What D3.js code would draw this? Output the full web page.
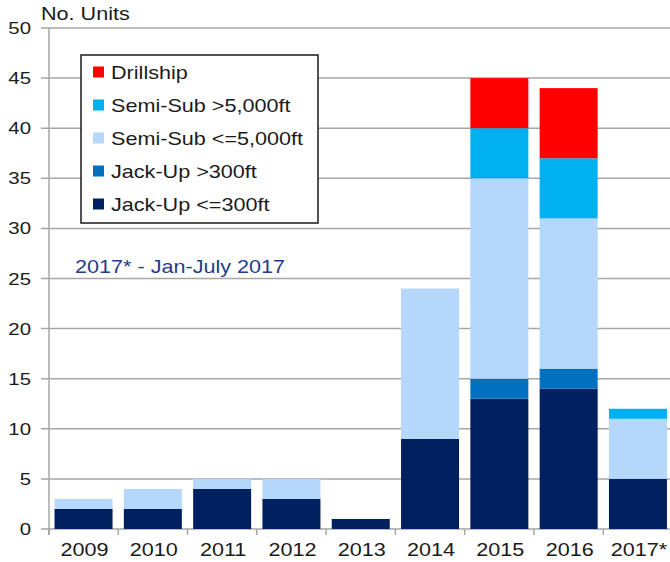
<!DOCTYPE html>
<html>
<head>
<meta charset="utf-8">
<script src="https://cdn.jsdelivr.net/npm/d3@7"></script>
<style>
  body { margin: 0; background: #fff; }
  text { font-family: "Liberation Sans", Arial, sans-serif; }
</style>
</head>
<body>
<div id="chart"></div>
<script>
// data
const years = ["2009", "2010", "2011", "2012", "2013", "2014", "2015", "2016", "2017*"];
const jackUpLow = [2, 2, 4, 3, 1, 9, 13, 14, 5];     // Jack-Up <=300ft
const jackUpHigh = [0, 0, 0, 0, 0, 0, 2, 2, 0];      // Jack-Up >300ft
const semiSubLow = [1, 2, 1, 2, 0, 15, 20, 15, 6];   // Semi-Sub <=5,000ft
const semiSubHigh = [0, 0, 0, 0, 0, 0, 5, 6, 1];     // Semi-Sub >5,000ft
const drillship = [0, 0, 0, 0, 0, 0, 5, 7, 0];
const yTicks = [0, 5, 10, 15, 20, 25, 30, 35, 40, 45, 50];

const seriesKeys = ["ju300", "ju300plus", "ss5000", "ss5000plus", "drill"];
const seriesNames = {
    ju300: "Jack-Up <=300ft",
    ju300plus: "Jack-Up >300ft",
    ss5000: "Semi-Sub <=5,000ft",
    ss5000plus: "Semi-Sub >5,000ft",
    drill: "Drillship"
};
const colors = {
    ju300: "#002060",
    ju300plus: "#0070c0",
    ss5000: "#b4d7fb",
    ss5000plus: "#00b0f0",
    drill: "#ff0000"
};

const table = years.map((y, i) => ({
    year: y,
    ju300: jackUpLow[i],
    ju300plus: jackUpHigh[i],
    ss5000: semiSubLow[i],
    ss5000plus: semiSubHigh[i],
    drill: drillship[i]
}));

const width = 670, height = 562;
const stretch = 1.2; // text in the picture is drawn a bit wide

const svg = d3.select("#chart")
    .append("svg")
    .attr("width", width)
    .attr("height", height);

const x = d3.scaleBand()
    .domain(years)
    .range([49, 672.5])
    .paddingInner(0.163)
    .paddingOuter(0.08);

const y = d3.scaleLinear()
    .domain([0, 50])
    .range([529, 28]);

// gridlines + y ticks
svg.selectAll(".grid")
    .data(yTicks)
    .join("line")
    .attr("class", "grid")
    .attr("x1", 41)
    .attr("x2", width)
    .attr("y1", d => y(d))
    .attr("y2", d => y(d))
    .attr("stroke", "#a6a6a6")
    .attr("stroke-width", 1.5);

svg.append("line")
    .attr("x1", 49).attr("x2", 49)
    .attr("y1", y(50)).attr("y2", y(0) + 6)
    .attr("stroke", "#a6a6a6")
    .attr("stroke-width", 1.5);

svg.selectAll(".ylab")
    .data(yTicks)
    .join("text")
    .attr("class", "ylab")
    .attr("text-anchor", "end")
    .attr("transform", d => `translate(31,${y(d) + 6}) scale(${stretch},1)`)
    .style("font-size", "17px")
    .style("fill", "#1a1a1a")
    .text(d => d);

// stacked bars
const stacked = d3.stack().keys(seriesKeys)(table);

svg.selectAll(".series")
    .data(stacked)
    .join("g")
    .attr("class", "series")
    .attr("fill", d => colors[d.key])
    .selectAll("rect")
    .data(d => d.filter(s => s[1] > s[0]))
    .join("rect")
    .attr("x", d => x(d.data.year))
    .attr("width", x.bandwidth())
    .attr("y", d => y(d[1]))
    .attr("height", d => y(d[0]) - y(d[1]));

// x ticks at band boundaries
const boundaries = years.map(yr => x(yr) - x.step() * x.paddingInner() / 2);
svg.selectAll(".xtick")
    .data(boundaries)
    .join("line")
    .attr("class", "xtick")
    .attr("x1", d => d).attr("x2", d => d)
    .attr("y1", y(0)).attr("y2", y(0) + 6)
    .attr("stroke", "#a6a6a6")
    .attr("stroke-width", 1.5);

svg.selectAll(".xlab")
    .data(years)
    .join("text")
    .attr("class", "xlab")
    .attr("text-anchor", "middle")
    .attr("transform", d => `translate(${x(d) + x.bandwidth() / 2 + 1},556) scale(${stretch},1)`)
    .style("font-size", "18px")
    .style("fill", "#1a1a1a")
    .text(d => d);

// axis title
svg.append("text")
    .attr("transform", `translate(41,20) scale(${stretch},1)`)
    .style("font-size", "18px")
    .style("fill", "#1a1a1a")
    .text("No. Units");

// note
svg.append("text")
    .attr("transform", `translate(75,273) scale(${stretch},1)`)
    .style("font-size", "18px")
    .style("fill", "#203c8c")
    .text("2017* - Jan-July 2017");

// legend
const legend = svg.append("g");
legend.append("rect")
    .attr("x", 81).attr("y", 55)
    .attr("width", 237).attr("height", 168)
    .attr("fill", "#fff")
    .attr("stroke", "#1a1a1a")
    .attr("stroke-width", 1.5);

const legendKeys = seriesKeys.slice().reverse();
const item = legend.selectAll(".item")
    .data(legendKeys)
    .join("g")
    .attr("class", "item")
    .attr("transform", (d, i) => `translate(93,${72 + i * 33})`);

item.append("rect")
    .attr("x", 0).attr("y", -5.5)
    .attr("width", 11).attr("height", 11)
    .attr("fill", d => colors[d]);

item.append("text")
    .attr("transform", `translate(18,6.5) scale(${stretch},1)`)
    .style("font-size", "18px")
    .style("fill", "#1a1a1a")
    .text(d => seriesNames[d]);
</script>
</body>
</html>
